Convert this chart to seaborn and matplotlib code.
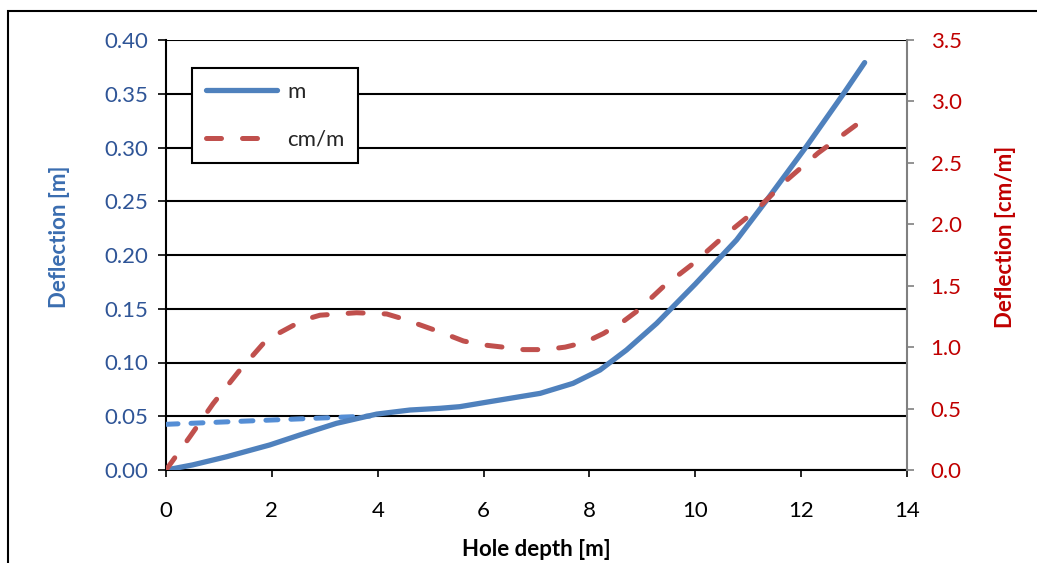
import numpy as np
import pandas as pd
import matplotlib
matplotlib.use("Agg")
import matplotlib.pyplot as plt
import seaborn as sns
from matplotlib.patches import Rectangle
from matplotlib.lines import Line2D

# ---- data ----
depth_m = [0, 0.5, 1.15, 1.96, 2.53, 3.22, 3.98, 4.61, 5.18, 5.55, 6.12, 7.07, 7.69, 8.2, 8.7, 9.27, 10.0, 10.78, 11.35, 12.1, 12.8, 13.2]
defl_m = [0.0, 0.0047, 0.0124, 0.0233, 0.0326, 0.0434, 0.052, 0.0558, 0.0574, 0.0589, 0.0636, 0.0713, 0.0806, 0.093, 0.1116, 0.1364, 0.173, 0.214, 0.251, 0.301, 0.350, 0.379]

depth_cm = [0, 0.45, 0.89, 1.37, 1.90, 2.59, 2.91, 3.60, 4.17, 4.48, 5.2, 5.62, 5.96, 6.37, 6.75, 7.16, 7.54, 7.92, 8.26, 8.61, 8.92, 9.39, 9.96, 10.56, 11.16, 11.73, 12.32, 12.95, 13.2]
defl_cm = [0.0, 0.27, 0.54, 0.80, 1.06, 1.22, 1.26, 1.28, 1.27, 1.23, 1.12, 1.05, 1.02, 1.00, 0.98, 0.98, 1.00, 1.04, 1.11, 1.20, 1.30, 1.49, 1.68, 1.91, 2.12, 2.36, 2.58, 2.78, 2.86]

trend_x = [0, 1, 2, 3, 3.85]
trend_y = [0.0425, 0.0445, 0.0465, 0.0485, 0.0502]

xticks = [0, 2, 4, 6, 8, 10, 12, 14]
left_ticks = [0.00, 0.05, 0.10, 0.15, 0.20, 0.25, 0.30, 0.35, 0.40]
right_ticks = [0.0, 0.5, 1.0, 1.5, 2.0, 2.5, 3.0, 3.5]

BLUE = "#4F81BD"
LBLUE = "#558ED5"
RED = "#C0504D"
BLUE_TXT = "#2F5597"
BLUE_LBL = "#3A6DB0"
RED_TXT = "#C00000"
FS = 16
DASH = (0, (3.0, 4.2))

sns.set_theme(style="white")
plt.rcParams["font.family"] = ["Lato", "DejaVu Sans"]

fig = plt.figure(figsize=(10.37, 5.63), dpi=100)
ax = fig.add_axes([166/1037, 1-470/563, (907-166)/1037, (470-40)/563])
ax2 = ax.twinx()

df_m = pd.DataFrame({"x": depth_m, "y": defl_m})
df_cm = pd.DataFrame({"x": depth_cm, "y": defl_cm})
df_t = pd.DataFrame({"x": trend_x, "y": trend_y})

sns.lineplot(data=df_t, x="x", y="y", ax=ax, color=LBLUE, lw=3.6,
             linestyle=(0, (2.4, 2.6)), dash_capstyle="round", legend=False, zorder=3)
sns.lineplot(data=df_m, x="x", y="y", ax=ax, color=BLUE, lw=3.8,
             solid_capstyle="round", solid_joinstyle="round", legend=False, zorder=4)
sns.lineplot(data=df_cm, x="x", y="y", ax=ax2, color=RED, lw=3.6,
             linestyle=DASH, dash_capstyle="round", dash_joinstyle="round", legend=False, zorder=4)

ax.set_xlim(0, 14)
ax.set_ylim(0, 0.40)
ax2.set_ylim(0, 3.5)
ax.set_xticks(xticks)
ax.set_yticks(left_ticks)
ax.set_yticklabels([f"{v:.2f}" for v in left_ticks])
ax2.set_yticks(right_ticks)
ax2.set_yticklabels([f"{v:.1f}" for v in right_ticks])

ax.grid(axis="y", color="black", lw=1.5)
ax.grid(axis="x", visible=False)
ax2.grid(False)
ax.set_axisbelow(True)

ax.spines["top"].set_visible(False)
ax.spines["right"].set_visible(False)
ax2.spines["top"].set_visible(False)
ax2.spines["left"].set_visible(False)
ax2.spines["bottom"].set_visible(False)
ax.spines["left"].set_color("black")
ax.spines["left"].set_linewidth(1.5)
ax.spines["bottom"].set_color("black")
ax.spines["bottom"].set_linewidth(1.5)
ax2.spines["right"].set_color("#808080")
ax2.spines["right"].set_linewidth(1.5)

ax.tick_params(axis="y", left=True, length=6, width=1.2, color="black",
               labelsize=FS, labelcolor=BLUE_TXT, pad=7)
ax.tick_params(axis="x", bottom=True, direction="out", length=5, width=1.2,
               color="black", labelsize=FS, labelcolor="black", pad=17)
ax2.tick_params(axis="y", right=True, length=5, width=1.2, color="#808080",
                labelsize=FS, labelcolor=RED_TXT, pad=12)

ax.set_xlabel("Hole depth [m]", fontsize=FS, fontweight="bold", color="black")
ax.set_ylabel("Deflection [m]", fontsize=FS, fontweight="bold", color=BLUE_LBL)
ax2.set_ylabel("Deflection [cm/m]", fontsize=FS, fontweight="bold", color=RED_TXT)
ax.xaxis.set_label_coords(0.5, -(539-470)/430)
ax.yaxis.set_label_coords((70-166)/741, 0.543)
ax2.yaxis.set_label_coords((995-166)/741, 0.543)

handles = [Line2D([0], [0], color=BLUE, lw=3.8, solid_capstyle="round"),
           Line2D([0], [0], color=RED, lw=3.6, linestyle=DASH, dash_capstyle="round")]
leg = ax2.legend(handles, ["m", "cm/m"], loc="upper left",
                 bbox_to_anchor=((192-166)/741, 1-(68-40)/430),
                 frameon=True, fancybox=False, fontsize=FS, handlelength=3.2,
                 borderpad=0.62, labelspacing=1.25, handletextpad=0.45, borderaxespad=0)
leg.get_frame().set_edgecolor("black")
leg.get_frame().set_linewidth(1.5)
leg.get_frame().set_facecolor("white")
leg.get_frame().set_alpha(1)

fig.patches.append(Rectangle((8/1037, -0.1), 1.2, 1.1 - 11/563, transform=fig.transFigure,
                             fill=False, edgecolor="black", lw=1.5))

fig.savefig("out.png", dpi=100)
